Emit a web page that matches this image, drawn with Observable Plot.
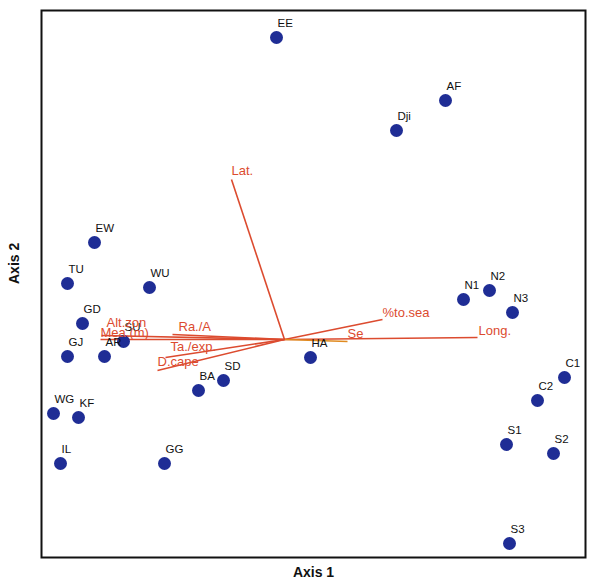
<!DOCTYPE html>
<html>
<head>
<meta charset="utf-8">
<script src="https://cdn.jsdelivr.net/npm/d3@7"></script>
<script src="https://cdn.jsdelivr.net/npm/@observablehq/plot@0.6"></script>
<style>
  body { margin: 0; background: #fff; }
  #chart svg { display: block; }
</style>
</head>
<body>
<div id="chart"></div>
<script>
// Site scores (Axis 1, Axis 2)
const sites = ["EE","AF","Dji","EW","TU","WU","GD","GJ","AR","SU","BA","SD","HA","WG","KF","IL","GG","N1","N2","N3","C1","C2","S1","S2","S3"];
const siteX = [-0.08,1.61,1.12,-1.90,-2.17,-1.35,-2.02,-2.17,-1.80,-1.61,-0.86,-0.61,0.26,-2.31,-2.06,-2.24,-1.20,1.79,2.05,2.28,2.80,2.53,2.22,2.69,2.25];
const siteY = [3.02,2.39,2.09,0.97,0.56,0.52,0.16,-0.17,-0.17,-0.02,-0.51,-0.41,-0.18,-0.74,-0.78,-1.24,-1.24,0.40,0.49,0.27,-0.38,-0.61,-1.05,-1.14,-2.04];

// Environmental vectors
const vars = ["Lat.","%to.sea","Long.","Se","Alt.zon","Mea.(m)","Ra./A","Ta./exp.","D.cape"];
const varX = [-0.53,0.98,1.93,0.63,-1.83,-1.84,-1.12,-1.19,-1.27];
const varY = [1.60,0.20,0.02,-0.02,0.04,0.00,0.05,-0.18,-0.31];

const siteData = sites.map((s, i) => ({name: s, x: siteX[i], y: siteY[i]}));
const varData = vars.map((v, i) => ({name: v, x: varX[i], y: varY[i]}));

// label offsets (styling)
const varLabelOffset = {
  "Lat.": [0, -9], "%to.sea": [0, -7], "Long.": [1, -7], "Se": [0, -8],
  "Alt.zon": [5, -13], "Mea.(m)": [0, -7], "Ra./A": [6, -8],
  "Ta./exp.": [5, -11], "D.cape": [0, -9]
};

const red = "#dc4b2f";
const font = "Liberation Sans, Arial, sans-serif";

const plot = Plot.plot({
  width: 590,
  height: 582,
  marginLeft: 41,
  marginRight: 5,
  marginTop: 10,
  marginBottom: 25,
  style: {fontFamily: font, background: "#fff"},
  x: {domain: [-2.43, 3.01], axis: null},
  y: {domain: [-2.18, 3.29], axis: null},
  marks: [
    Plot.frame({stroke: "#111", strokeWidth: 2}),
    Plot.link(varData, {
      x1: 0, y1: 0, x2: "x", y2: "y",
      stroke: d => d.name === "Se" ? "#e08a20" : red,
      strokeWidth: 1.6
    }),
    Plot.dot(siteData, {x: "x", y: "y", r: 6.5, fill: "#1f2d95", stroke: "none"}),
    Plot.text(siteData, {
      x: "x", y: "y", text: "name", dx: 1, dy: -14,
      textAnchor: "start", fontSize: 11.5, fill: "#111"
    }),
    ...varData.map(d => Plot.text([d], {
      x: "x", y: "y", text: "name",
      dx: varLabelOffset[d.name][0], dy: varLabelOffset[d.name][1],
      textAnchor: "start", fontSize: 13, fill: red
    })),
    Plot.text(["Axis 1"], {frameAnchor: "bottom", dy: 19, fontSize: 14, fontWeight: "bold", fill: "#111"}),
    Plot.text(["Axis 2"], {frameAnchor: "left", dx: -27, rotate: -90, fontSize: 14, fontWeight: "bold", fill: "#111"})
  ]
});
document.getElementById("chart").appendChild(plot);
</script>
</body>
</html>
